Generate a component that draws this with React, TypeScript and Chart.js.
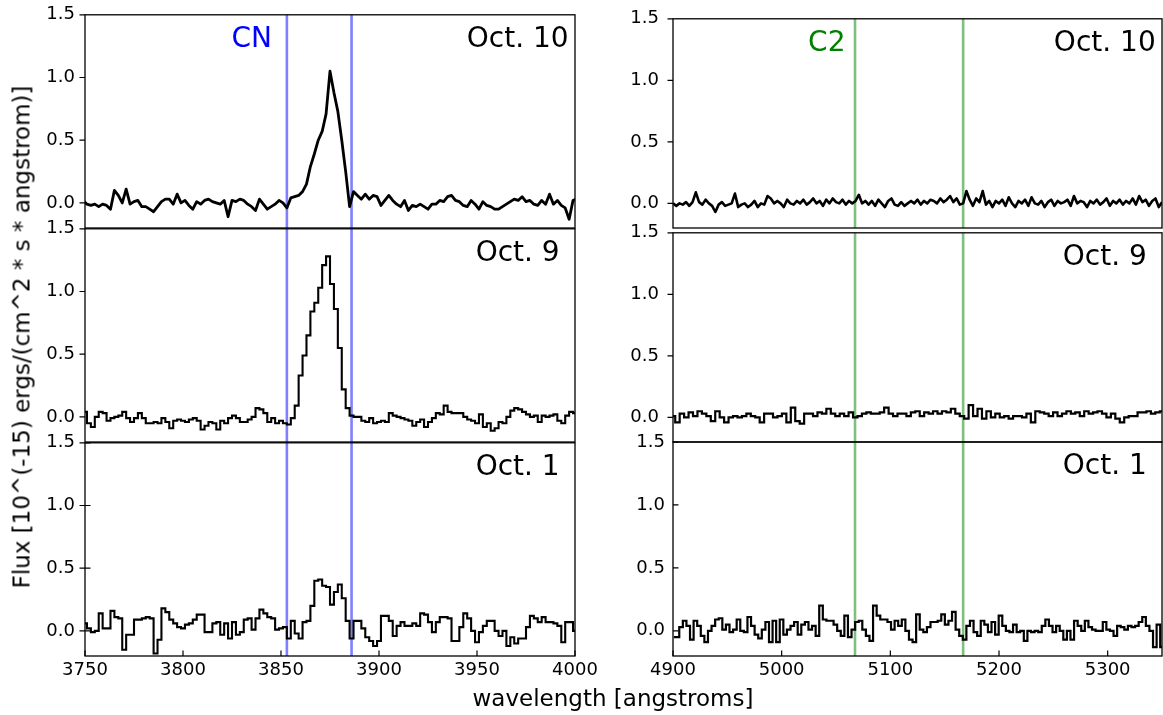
import React, { useEffect, useRef } from "react";
import { Chart, registerables } from "chart.js";

Chart.register(...registerables);

// ---------- data ----------
const Y_MIN = -0.2;
const Y_MAX = 1.5;
const Y_TICKS = [0, 0.5, 1.0, 1.5];

const CN_X_RANGE = [3750, 4000];
const C2_X_RANGE = [4900, 5350];
const CN_X_TICKS = [3750, 3800, 3850, 3900, 3950, 4000];
const C2_X_TICKS = [4900, 5000, 5100, 5200, 5300];

const CN_LINES = [3853, 3886];
const C2_LINES = [5067.5, 5167];

const DATES = ["Oct. 10", "Oct. 9", "Oct. 1"];
const CN_LABEL = "CN";
const C2_LABEL = "C2";
const CN_LABEL_X = 3845.4; // right edge of label, angstroms
const C2_LABEL_X = 5058.7;

const X_TITLE = "wavelength [angstroms]";
const Y_TITLE = "Flux [10^(-15) ergs/(cm^2 * s * angstrom)]";

// CN region, Oct. 10 (fine sampling, 3749 .. 4001)
const CN_OCT10_RANGE = [3749, 4001];
const CN_OCT10 = [
  0.02, -0.01, -0.02, -0.01, -0.03, -0.01, -0.02, -0.05, 0.1, 0.06,
  0.0, 0.11, -0.01, 0.01, 0.02, -0.03, -0.03, -0.05, -0.07, -0.03,
  0.01, 0.03, 0.03, -0.01, 0.07, 0.0, 0.02, -0.02, -0.05, 0.01,
  -0.01, 0.02, 0.03, 0.01, 0.0, -0.01, 0.02, -0.11, 0.02, 0.01,
  0.03, 0.02, -0.01, -0.03, -0.06, 0.03, -0.01, -0.05, -0.03, -0.01,
  0.02, 0.0, -0.04, 0.04, 0.05, 0.06, 0.09, 0.15, 0.29, 0.39,
  0.5, 0.57, 0.71, 1.05, 0.88, 0.73, 0.5, 0.25, -0.03, 0.09,
  0.06, 0.03, 0.07, 0.03, 0.06, 0.05, -0.02, 0.02, 0.06, 0.02,
  -0.01, -0.03, 0.02, -0.06, -0.02, -0.03, -0.01, -0.03, -0.05, -0.01,
  -0.01, 0.02, 0.01, 0.05, 0.06, 0.02, 0.01, -0.02, -0.03, 0.02,
  -0.01, -0.05, 0.01, -0.02, -0.03, -0.05, -0.05, -0.03, -0.01, 0.01,
  0.03, 0.02, 0.05, 0.01, 0.02, -0.01, -0.02, 0.02, -0.01, 0.07,
  -0.01, 0.02, -0.02, -0.04, -0.13, 0.02, 0.03,
];

// CN region, Oct. 9 (2 A bins, centres 3750 .. 4000)
const CN_OCT9_RANGE = [3750, 4000];
const CN_OCT9 = [
  0.04, -0.05, -0.08, 0.0, 0.04, 0.03, -0.03, -0.01, 0.0, 0.01,
  0.04, -0.01, -0.04, -0.01, 0.03, -0.01, -0.05, -0.05, -0.04, -0.05,
  -0.01, -0.04, -0.09, -0.03, -0.02, -0.03, -0.04, -0.02, -0.01, -0.03,
  -0.1, -0.07, -0.04, -0.05, -0.1, -0.03, -0.05, -0.01, 0.01, -0.01,
  -0.04, -0.04, -0.02, 0.0, 0.07, 0.06, 0.03, -0.04, -0.01, -0.05,
  -0.03, -0.05, -0.06, -0.01, 0.09, 0.33, 0.49, 0.65, 0.84, 0.91,
  1.03, 1.21, 1.28, 1.06, 0.86, 0.55, 0.22, 0.07, 0.01, 0.0,
  0.0, -0.03, -0.04, -0.01, -0.05, -0.04, -0.03, -0.04, 0.03, 0.01,
  0.0, -0.01, -0.02, -0.03, -0.07, -0.04, -0.02, -0.08, -0.04, -0.01,
  0.03, 0.02, 0.09, 0.04, 0.03, 0.03, 0.03, 0.0, -0.02, -0.03,
  -0.05, 0.02, -0.08, -0.05, -0.11, -0.09, -0.04, -0.05, 0.0, 0.05,
  0.07, 0.06, 0.04, 0.02, 0.0, 0.01, -0.04, 0.01, 0.0, 0.01,
  0.02, -0.03, -0.05, 0.01, 0.04, 0.03,
];

// CN region, Oct. 1 (2 A bins, centres 3750 .. 4000)
const CN_OCT1_RANGE = [3750, 4000];
const CN_OCT1 = [
  0.06, 0.02, -0.01, 0.0, 0.14, 0.02, 0.02, 0.16, 0.11, 0.1,
  -0.15, -0.03, -0.03, 0.09, 0.09, 0.1, 0.11, 0.1, -0.18, -0.07,
  0.18, 0.15, 0.09, 0.06, 0.03, 0.02, 0.05, 0.06, 0.09, 0.13,
  0.13, -0.01, -0.01, 0.06, 0.07, -0.03, 0.06, -0.06, 0.07, -0.03,
  -0.01, 0.09, 0.1, 0.01, 0.1, 0.17, 0.14, 0.11, 0.1, 0.01,
  0.02, 0.03, -0.06, 0.08, -0.02, -0.06, 0.07, 0.08, 0.2, 0.4,
  0.41, 0.36, 0.35, 0.21, 0.31, 0.37, 0.26, 0.08, -0.06, 0.08,
  0.08, 0.02, -0.05, -0.08, -0.12, -0.08, 0.12, 0.12, 0.08, -0.04,
  0.04, 0.07, 0.04, 0.04, 0.06, 0.04, 0.14, 0.13, 0.07, -0.01,
  0.07, 0.11, 0.11, 0.1, -0.08, -0.08, 0.03, 0.14, 0.1, 0.0,
  -0.09, -0.01, 0.04, 0.08, 0.08, 0.0, -0.04, 0.0, -0.12, -0.05,
  -0.1, -0.06, -0.06, 0.03, 0.12, 0.1, 0.07, 0.11, 0.07, 0.07,
  0.06, 0.04, -0.09, 0.07, 0.07, 0.0,
];

// C2 region, Oct. 10 (fine sampling, 4900 .. 5350)
const C2_OCT10_RANGE = [4900, 5350];
const C2_OCT10 = [
  0.0, -0.02, 0.0, -0.01, 0.01, -0.02, 0.01, 0.09, 0.01, -0.01,
  0.03, 0.0, -0.02, -0.07, -0.01, 0.01, -0.02, -0.01, 0.0, 0.08,
  -0.03, -0.01, 0.0, -0.03, -0.01, 0.02, -0.03, 0.0, -0.01, 0.06,
  0.04, 0.0, 0.02, 0.0, -0.03, 0.03, 0.0, -0.01, 0.02, 0.0,
  0.03, -0.01, 0.01, 0.04, 0.0, 0.02, -0.02, 0.03, 0.0, 0.04,
  0.01, 0.0, 0.03, -0.01, 0.02, 0.0, 0.02, 0.07, 0.0, 0.02,
  -0.01, 0.02, -0.02, 0.03, 0.0, -0.03, 0.02, 0.04, -0.01, -0.02,
  0.01, -0.02, 0.0, 0.02, 0.0, 0.03, -0.01, 0.02, 0.0, 0.03,
  0.02, 0.0, 0.04, 0.01, 0.03, 0.06, 0.01, 0.04, -0.01, 0.0,
  0.1, 0.03, -0.02, 0.04, 0.01, 0.1, -0.01, 0.02, -0.03, 0.02,
  0.0, 0.03, -0.02, 0.05, 0.0, -0.03, 0.02, 0.0, 0.03, -0.02,
  0.05, 0.0, -0.01, 0.02, -0.03, 0.01, 0.03, -0.02, 0.02, 0.0,
  0.01, 0.03, -0.02, 0.06, 0.0, 0.02, 0.01, -0.03, 0.02, 0.0,
  0.03, -0.01, 0.01, 0.04, -0.02, 0.02, 0.0, 0.03, -0.01, 0.02,
  0.0, 0.04, -0.01, 0.06, 0.01, 0.03, -0.02, 0.02, 0.04, -0.03,
  0.01,
];

// C2 region, Oct. 9 (binned, 4900 .. 5350)
const C2_OCT9_RANGE = [4900, 5350];
const C2_OCT9 = [
  0.01, -0.04, 0.03, 0.0, 0.04, 0.01, 0.05, 0.03, 0.01, -0.03,
  0.05, 0.0, -0.04, 0.0, 0.01, 0.0, 0.01, 0.03, 0.01, 0.0,
  -0.04, 0.03, 0.03, 0.0, 0.01, 0.03, -0.04, 0.08, -0.03, -0.05,
  0.03, 0.03, 0.01, 0.04, 0.03, 0.07, 0.03, 0.01, 0.03, 0.01,
  0.04, 0.0, 0.01, 0.03, 0.04, 0.03, 0.03, 0.04, 0.08, 0.03,
  0.01, 0.03, 0.03, 0.01, 0.04, 0.05, 0.01, 0.04, 0.03, 0.05,
  0.03, 0.05, 0.04, 0.07, 0.03, 0.01, -0.01, 0.1, 0.01, 0.07,
  -0.01, 0.05, 0.0, 0.03, 0.0, 0.01, -0.01, 0.01, 0.01, 0.0,
  0.03, -0.04, 0.05, 0.04, 0.03, 0.01, 0.04, 0.01, 0.03, 0.05,
  0.03, 0.04, 0.01, 0.05, 0.03, 0.04, 0.05, 0.03, 0.0, 0.03,
  -0.01, -0.04, 0.0, 0.01, 0.01, 0.04, 0.04, 0.05, 0.03, 0.04,
  0.05,
];

// C2 region, Oct. 1 (binned, 4900.8 .. 5350)
const C2_OCT1_RANGE = [4900.8, 5350];
const C2_OCT1 = [
  -0.05, -0.05, 0.03, 0.08, 0.04, -0.07, 0.08, 0.04, -0.04, -0.09,
  0.0, 0.04, 0.09, 0.1, 0.01, 0.05, -0.01, 0.01, 0.09, 0.0,
  -0.01, 0.11, 0.04, -0.03, -0.06, 0.01, 0.07, -0.09, 0.08, -0.09,
  0.09, -0.03, 0.01, 0.04, 0.07, -0.03, 0.05, 0.07, 0.01, 0.04,
  -0.04, 0.2, 0.09, 0.08, 0.08, 0.05, 0.0, -0.04, 0.12, -0.05,
  0.01, 0.07, 0.08, 0.01, -0.04, -0.08, 0.2, 0.12, 0.09, 0.09,
  0.07, 0.01, 0.08, 0.04, 0.09, 0.0, -0.07, -0.09, 0.13, 0.01,
  -0.01, 0.03, 0.07, 0.07, 0.08, 0.13, 0.05, 0.08, 0.15, 0.01,
  -0.04, -0.07, 0.04, 0.08, -0.01, -0.04, 0.08, 0.05, -0.01, 0.07,
  -0.03, 0.12, 0.04, 0.0, -0.01, 0.05, -0.01, 0.0, -0.08, 0.0,
  -0.01, 0.0, -0.01, 0.04, 0.09, 0.04, -0.01, 0.04, 0.0, -0.07,
  0.0, -0.07, 0.08, 0.04, 0.0, 0.08, 0.03, 0.01, 0.0, 0.0,
  0.07, 0.01, 0.0, -0.04, 0.04, 0.03, 0.01, 0.04, 0.03, 0.04,
  0.07, 0.11, 0.04, 0.0, -0.13, 0.05, -0.13,
];

// ---------- layout ----------
const FONT = '"DejaVu Sans", sans-serif';
const LEFT_X = 85;
const LEFT_W = 490;
const RIGHT_X = 673;
const RIGHT_W = 489;
const ROW_TOP = [14, 228, 442];
const ROW_H = 214;

type PanelProps = {
  plotX: number;
  plotY: number;
  plotW: number;
  plotH: number;
  xRange: number[];
  xTicks: number[];
  bottom: boolean;
  values: number[];
  wlRange: number[];
  stepped: boolean;
  lineWidth: number;
  markers: number[];
  markerColor: string;
  date: string;
  tickIn: boolean;
  tickOut: boolean;
  labelPad: number;
  species?: string;
  speciesColor?: string;
  speciesX?: number;
};

function Panel(p: PanelProps) {
  const ref = useRef<HTMLCanvasElement | null>(null);
  const padL = 80;
  const padT = 20;
  const padR = 40;
  const padB = 50;
  const cw = padL + p.plotW + padR;
  const ch = padT + p.plotH + padB;

  useEffect(() => {
    if (!ref.current) return;
    const n = p.values.length;
    const [w0, w1] = p.wlRange;
    const pts = p.values.map((v, i) => ({ x: w0 + (i * (w1 - w0)) / (n - 1), y: v }));

    const framePlugin = {
      id: "frame",
      afterDraw(chart: any) {
        const { ctx, chartArea: a } = chart;
        const xs = chart.scales.x;
        const ys = chart.scales.y;
        ctx.save();
        ctx.strokeStyle = "#000";
        ctx.lineWidth = 1.3;
        ctx.strokeRect(a.left, a.top, a.right - a.left, a.bottom - a.top);
        ctx.lineWidth = 1.2;
        ctx.beginPath();
        for (const v of Y_TICKS) {
          const py = ys.getPixelForValue(v);
          ctx.moveTo(a.left - (p.tickOut ? 5.5 : 0), py);
          ctx.lineTo(a.left + (p.tickIn ? 5.5 : 0), py);
        }
        if (p.bottom) {
          for (const v of p.xTicks) {
            const px = xs.getPixelForValue(v);
            ctx.moveTo(px, a.bottom);
            ctx.lineTo(px, a.bottom - 5.5);
          }
        }
        ctx.stroke();
        ctx.font = `28px ${FONT}`;
        ctx.textBaseline = "alphabetic";
        ctx.textAlign = "center";
        ctx.fillStyle = "#000";
        ctx.fillText(p.date, a.left + 0.883 * (a.right - a.left), a.top + 31.7);
        if (p.species && p.speciesX !== undefined) {
          ctx.textAlign = "right";
          ctx.fillStyle = p.speciesColor || "#000";
          ctx.fillText(p.species, xs.getPixelForValue(p.speciesX), a.top + 31.7);
        }
        ctx.restore();
      },
    };

    const datasets: any[] = [
      {
        data: pts,
        borderColor: "#000",
        borderWidth: p.lineWidth,
        pointRadius: 0,
        stepped: p.stepped ? "middle" : false,
        tension: 0,
        fill: false,
        borderJoinStyle: p.stepped ? "miter" : "round",
      },
      ...p.markers.map((m) => ({
        data: [
          { x: m, y: Y_MIN },
          { x: m, y: Y_MAX },
        ],
        borderColor: p.markerColor,
        borderWidth: 2.6,
        pointRadius: 0,
        fill: false,
      })),
    ];

    const chart = new Chart(ref.current, {
      type: "line",
      data: { datasets },
      options: {
        responsive: false,
        animation: false,
        devicePixelRatio: 1,
        layout: { padding: { left: 0, top: padT, right: padR, bottom: 0 } },
        plugins: { legend: { display: false }, tooltip: { enabled: false } },
        scales: {
          x: {
            type: "linear",
            min: p.xRange[0],
            max: p.xRange[1],
            grid: { display: false, drawTicks: false },
            border: { display: false },
            ticks: {
              display: p.bottom,
              padding: 4,
              color: "#000",
              font: { family: FONT, size: 18 },
              maxRotation: 0,
              autoSkip: false,
              callback: (v: any) => String(v),
            },
            afterBuildTicks: (s: any) => {
              s.ticks = p.xTicks.map((v) => ({ value: v }));
            },
            afterFit: (s: any) => {
              s.height = padB;
            },
          },
          y: {
            type: "linear",
            min: Y_MIN,
            max: Y_MAX,
            grid: { display: false, drawTicks: false },
            border: { display: false },
            ticks: {
              padding: p.labelPad,
              color: "#000",
              font: { family: FONT, size: 18 },
              callback: (v: any) => Number(v).toFixed(1),
            },
            afterBuildTicks: (s: any) => {
              s.ticks = Y_TICKS.map((v) => ({ value: v }));
            },
            afterFit: (s: any) => {
              s.width = padL;
            },
          },
        },
      } as any,
      plugins: [framePlugin],
    });
    return () => chart.destroy();
  }, []);

  return (
    <canvas
      ref={ref}
      width={cw}
      height={ch}
      style={{
        position: "absolute",
        left: p.plotX - padL,
        top: p.plotY - padT,
        width: cw,
        height: ch,
      }}
    />
  );
}

export default function App() {
  const cnSeries = [CN_OCT10, CN_OCT9, CN_OCT1];
  const cnRanges = [CN_OCT10_RANGE, CN_OCT9_RANGE, CN_OCT1_RANGE];
  const c2Series = [C2_OCT10, C2_OCT9, C2_OCT1];
  const c2Ranges = [C2_OCT10_RANGE, C2_OCT9_RANGE, C2_OCT1_RANGE];

  return (
    <div
      style={{
        position: "absolute",
        left: 0,
        top: 0,
        width: 1163,
        height: 715,
        overflow: "hidden",
        background: "#fff",
        fontFamily: FONT,
      }}
    >
      {ROW_TOP.map((top, r) => (
        <Panel
          key={"cn" + r}
          plotX={LEFT_X}
          plotY={top}
          plotW={LEFT_W}
          plotH={ROW_H}
          xRange={CN_X_RANGE}
          xTicks={CN_X_TICKS}
          bottom={r === 2}
          values={cnSeries[r]}
          wlRange={cnRanges[r]}
          stepped={r > 0}
          lineWidth={r === 0 ? 2.8 : 2.1}
          markers={CN_LINES}
          markerColor="rgba(0,0,255,0.5)"
          date={DATES[r]}
          tickIn={r === 2}
          tickOut={true}
          labelPad={10}
          species={r === 0 ? CN_LABEL : undefined}
          speciesColor="#0000ff"
          speciesX={CN_LABEL_X}
        />
      ))}
      {ROW_TOP.map((top, r) => (
        <Panel
          key={"c2" + r}
          plotX={RIGHT_X}
          plotY={top}
          plotW={RIGHT_W}
          plotH={ROW_H}
          xRange={C2_X_RANGE}
          xTicks={C2_X_TICKS}
          bottom={r === 2}
          values={c2Series[r]}
          wlRange={c2Ranges[r]}
          stepped={r > 0}
          lineWidth={r === 0 ? 2.6 : 2.2}
          markers={C2_LINES}
          markerColor="rgba(0,128,0,0.5)"
          date={DATES[r]}
          tickIn={r === 2}
          tickOut={r !== 2}
          labelPad={r === 2 ? 8 : 14}
          species={r === 0 ? C2_LABEL : undefined}
          speciesColor="#008000"
          speciesX={C2_LABEL_X}
        />
      ))}
      <div
        style={{
          position: "absolute",
          left: 613,
          top: 687,
          transform: "translateX(-50%)",
          fontSize: 23,
          lineHeight: "23px",
          whiteSpace: "nowrap",
          color: "#000",
        }}
      >
        {X_TITLE}
      </div>
      <div
        style={{
          position: "absolute",
          left: 22,
          top: 337,
          transform: "translate(-50%, -50%) rotate(-90deg)",
          fontSize: 23,
          lineHeight: "23px",
          whiteSpace: "nowrap",
          color: "#000",
        }}
      >
        {Y_TITLE}
      </div>
    </div>
  );
}
